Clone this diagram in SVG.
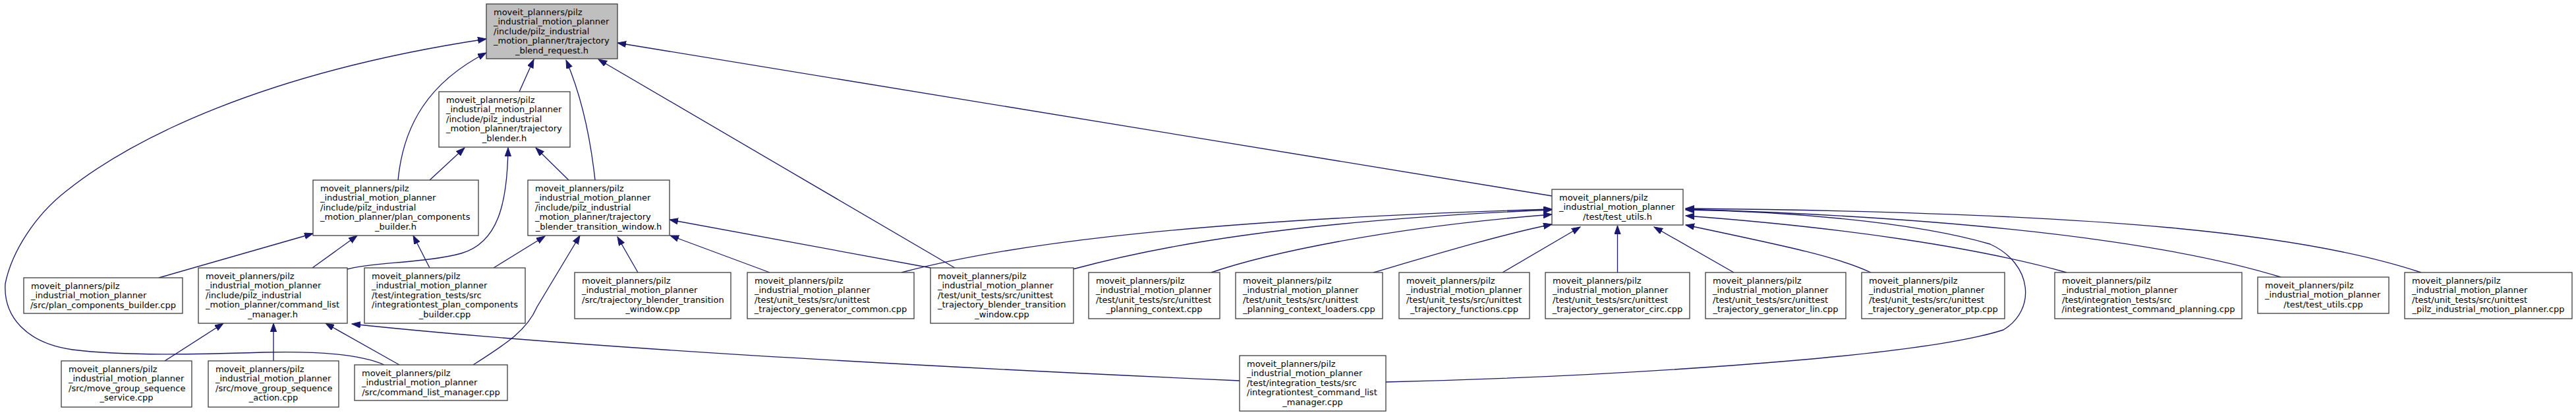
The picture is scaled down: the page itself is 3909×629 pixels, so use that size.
<svg xmlns="http://www.w3.org/2000/svg" width="3909" height="629" viewBox="0 0 3909 629">
<style>
.node rect{fill:#ffffff;stroke:#404040;stroke-width:1.33}
.root rect{fill:#bfbfbf}
text{font-family:"DejaVu Sans",sans-serif;font-size:13px;fill:#000}
.c{text-anchor:middle}
.edges path{fill:none;stroke:#191970;stroke-width:1.33;marker-end:url(#ah)}
</style>
<defs>
<marker id="ah" markerUnits="userSpaceOnUse" markerWidth="14" markerHeight="10" refX="13" refY="4.7" orient="auto">
<path d="M0,0 L13,4.7 L0,9.4 z" fill="#191970" stroke="#191970" stroke-width="1"/>
</marker>
</defs>
<rect width="3909" height="629" fill="#ffffff"/>
<g class="edges">
<path d="M788,139 L810,90"/>
<path d="M903,273 C895,200 880,140 859,91"/>
<path d="M604,273 C612,190 650,125 738,80"/>
<path d="M583,553 C545,536 480,532 400,534 C300,537 190,540 110,530 C40,520 5,480 8,430 C18,380 55,325 100,290 C200,210 400,110 738,59"/>
<path d="M2355,297 L937,65"/>
<path d="M1449,406 L908,90"/>
<path d="M652,273 L705,224"/>
<path d="M527,408 C560,398 650,398 700,384 C755,368 770,310 771,224"/>
<path d="M863,273 L813,224"/>
<path d="M241,421 L475,354"/>
<path d="M474,406 L542,357"/>
<path d="M652,406 L627,357"/>
<path d="M749,406 L827,358"/>
<path d="M718,553 C770,520 800,500 815,465 L880,357"/>
<path d="M968,413 L937,359"/>
<path d="M1168,413 L1017,357"/>
<path d="M1412,406 L1016,333"/>
<path d="M1368,413 C1500,378 1750,335 2355,317"/>
<path d="M1628,408 C1750,375 1950,335 2355,318"/>
<path d="M1838,413 C1920,385 2100,345 2355,325"/>
<path d="M2084,413 C2180,385 2280,355 2355,340"/>
<path d="M2280,413 L2398,344"/>
<path d="M2454.5,413 L2454.5,342"/>
<path d="M2631,413 L2510,344"/>
<path d="M2839,413 C2790,390 2720,375 2558,341"/>
<path d="M3136,413 C3000,375 2800,345 2558,327"/>
<path d="M3461,420 C3380,395 3150,335 2558,317"/>
<path d="M3674,413 C3500,355 3200,322 2558,316"/>
<path d="M2103,579 C2400,572 2900,545 3040,500 C3090,470 3085,400 3020,370 C2900,335 2700,320 2558,318"/>
<path d="M1881,577 C1500,560 900,530 534,491"/>
<path d="M250,547 L339,490"/>
<path d="M415,547 L415,490"/>
<path d="M606,553 L494,490"/>
</g>
<g id="n_root" class="node root">
<rect x="738" y="6" width="199" height="83"/>
<text x="749" y="22.5">moveit_planners/pilz</text>
<text x="749" y="37">_industrial_motion_planner</text>
<text x="749" y="51.5">/include/pilz_industrial</text>
<text x="749" y="66">_motion_planner/trajectory</text>
<text class="c" x="837.5" y="80.5">_blend_request.h</text>
</g>
<g id="n_blender_h" class="node">
<rect x="666" y="139" width="199" height="84"/>
<text x="677" y="155.5">moveit_planners/pilz</text>
<text x="677" y="170">_industrial_motion_planner</text>
<text x="677" y="184.5">/include/pilz_industrial</text>
<text x="677" y="199">_motion_planner/trajectory</text>
<text class="c" x="765.5" y="213.5">_blender.h</text>
</g>
<g id="n_pcb_h" class="node">
<rect x="475" y="273" width="251" height="84"/>
<text x="486" y="289.5">moveit_planners/pilz</text>
<text x="486" y="304">_industrial_motion_planner</text>
<text x="486" y="318.5">/include/pilz_industrial</text>
<text x="486" y="333">_motion_planner/plan_components</text>
<text class="c" x="600.5" y="347.5">_builder.h</text>
</g>
<g id="n_tbtw_h" class="node">
<rect x="801" y="273" width="215" height="84"/>
<text x="812" y="289.5">moveit_planners/pilz</text>
<text x="812" y="304">_industrial_motion_planner</text>
<text x="812" y="318.5">/include/pilz_industrial</text>
<text x="812" y="333">_motion_planner/trajectory</text>
<text class="c" x="908.5" y="347.5">_blender_transition_window.h</text>
</g>
<g id="n_test_utils_h" class="node">
<rect x="2355" y="287" width="199" height="54"/>
<text x="2366" y="303.5">moveit_planners/pilz</text>
<text x="2366" y="318">_industrial_motion_planner</text>
<text class="c" x="2454.5" y="332.5">/test/test_utils.h</text>
</g>
<g id="n_pcb_cpp" class="node">
<rect x="36" y="421" width="241" height="54"/>
<text x="47" y="437.5">moveit_planners/pilz</text>
<text x="47" y="452">_industrial_motion_planner</text>
<text class="c" x="156.5" y="466.5">/src/plan_components_builder.cpp</text>
</g>
<g id="n_clm_h" class="node">
<rect x="301" y="406" width="226" height="84"/>
<text x="312" y="422.5">moveit_planners/pilz</text>
<text x="312" y="437">_industrial_motion_planner</text>
<text x="312" y="451.5">/include/pilz_industrial</text>
<text x="312" y="466">_motion_planner/command_list</text>
<text class="c" x="414" y="480.5">_manager.h</text>
</g>
<g id="n_it_pcb" class="node">
<rect x="553" y="406" width="244" height="84"/>
<text x="564" y="422.5">moveit_planners/pilz</text>
<text x="564" y="437">_industrial_motion_planner</text>
<text x="564" y="451.5">/test/integration_tests/src</text>
<text x="564" y="466">/integrationtest_plan_components</text>
<text class="c" x="675" y="480.5">_builder.cpp</text>
</g>
<g id="n_mgs_service" class="node">
<rect x="93" y="547" width="198" height="70"/>
<text x="104" y="563.5">moveit_planners/pilz</text>
<text x="104" y="578">_industrial_motion_planner</text>
<text x="104" y="592.5">/src/move_group_sequence</text>
<text class="c" x="192" y="607">_service.cpp</text>
</g>
<g id="n_mgs_action" class="node">
<rect x="316" y="547" width="198" height="70"/>
<text x="327" y="563.5">moveit_planners/pilz</text>
<text x="327" y="578">_industrial_motion_planner</text>
<text x="327" y="592.5">/src/move_group_sequence</text>
<text class="c" x="415" y="607">_action.cpp</text>
</g>
<g id="n_clm_cpp" class="node">
<rect x="538" y="553" width="232" height="54"/>
<text x="549" y="569.5">moveit_planners/pilz</text>
<text x="549" y="584">_industrial_motion_planner</text>
<text class="c" x="654" y="598.5">/src/command_list_manager.cpp</text>
</g>
<g id="n_src_tbtw" class="node">
<rect x="872" y="413" width="237" height="70"/>
<text x="883" y="429.5">moveit_planners/pilz</text>
<text x="883" y="444">_industrial_motion_planner</text>
<text x="883" y="458.5">/src/trajectory_blender_transition</text>
<text class="c" x="990.5" y="473">_window.cpp</text>
</g>
<g id="n_ut_tg_common" class="node">
<rect x="1134" y="413" width="253" height="70"/>
<text x="1145" y="429.5">moveit_planners/pilz</text>
<text x="1145" y="444">_industrial_motion_planner</text>
<text x="1145" y="458.5">/test/unit_tests/src/unittest</text>
<text class="c" x="1260.5" y="473">_trajectory_generator_common.cpp</text>
</g>
<g id="n_ut_tbtw" class="node">
<rect x="1412" y="406" width="217" height="84"/>
<text x="1423" y="422.5">moveit_planners/pilz</text>
<text x="1423" y="437">_industrial_motion_planner</text>
<text x="1423" y="451.5">/test/unit_tests/src/unittest</text>
<text x="1423" y="466">_trajectory_blender_transition</text>
<text class="c" x="1520.5" y="480.5">_window.cpp</text>
</g>
<g id="n_ut_pc" class="node">
<rect x="1652" y="413" width="199" height="70"/>
<text x="1663" y="429.5">moveit_planners/pilz</text>
<text x="1663" y="444">_industrial_motion_planner</text>
<text x="1663" y="458.5">/test/unit_tests/src/unittest</text>
<text class="c" x="1751.5" y="473">_planning_context.cpp</text>
</g>
<g id="n_ut_pcl" class="node">
<rect x="1875" y="413" width="223" height="70"/>
<text x="1886" y="429.5">moveit_planners/pilz</text>
<text x="1886" y="444">_industrial_motion_planner</text>
<text x="1886" y="458.5">/test/unit_tests/src/unittest</text>
<text class="c" x="1986.5" y="473">_planning_context_loaders.cpp</text>
</g>
<g id="n_ut_tf" class="node">
<rect x="2123" y="413" width="198" height="70"/>
<text x="2134" y="429.5">moveit_planners/pilz</text>
<text x="2134" y="444">_industrial_motion_planner</text>
<text x="2134" y="458.5">/test/unit_tests/src/unittest</text>
<text class="c" x="2222" y="473">_trajectory_functions.cpp</text>
</g>
<g id="n_ut_circ" class="node">
<rect x="2345" y="413" width="219" height="70"/>
<text x="2356" y="429.5">moveit_planners/pilz</text>
<text x="2356" y="444">_industrial_motion_planner</text>
<text x="2356" y="458.5">/test/unit_tests/src/unittest</text>
<text class="c" x="2454.5" y="473">_trajectory_generator_circ.cpp</text>
</g>
<g id="n_it_clm" class="node">
<rect x="1881" y="539" width="222" height="84"/>
<text x="1892" y="555.5">moveit_planners/pilz</text>
<text x="1892" y="570">_industrial_motion_planner</text>
<text x="1892" y="584.5">/test/integration_tests/src</text>
<text x="1892" y="599">/integrationtest_command_list</text>
<text class="c" x="1992" y="613.5">_manager.cpp</text>
</g>
<g id="n_ut_lin" class="node">
<rect x="2588" y="413" width="213" height="70"/>
<text x="2599" y="429.5">moveit_planners/pilz</text>
<text x="2599" y="444">_industrial_motion_planner</text>
<text x="2599" y="458.5">/test/unit_tests/src/unittest</text>
<text class="c" x="2694.5" y="473">_trajectory_generator_lin.cpp</text>
</g>
<g id="n_ut_ptp" class="node">
<rect x="2825" y="413" width="217" height="70"/>
<text x="2836" y="429.5">moveit_planners/pilz</text>
<text x="2836" y="444">_industrial_motion_planner</text>
<text x="2836" y="458.5">/test/unit_tests/src/unittest</text>
<text class="c" x="2933.5" y="473">_trajectory_generator_ptp.cpp</text>
</g>
<g id="n_it_cp" class="node">
<rect x="3118" y="413" width="284" height="70"/>
<text x="3129" y="429.5">moveit_planners/pilz</text>
<text x="3129" y="444">_industrial_motion_planner</text>
<text x="3129" y="458.5">/test/integration_tests/src</text>
<text class="c" x="3260" y="473">/integrationtest_command_planning.cpp</text>
</g>
<g id="n_test_utils_cpp" class="node">
<rect x="3426" y="420" width="199" height="55"/>
<text x="3437" y="436.5">moveit_planners/pilz</text>
<text x="3437" y="451">_industrial_motion_planner</text>
<text class="c" x="3525.5" y="465.5">/test/test_utils.cpp</text>
</g>
<g id="n_ut_pimp" class="node">
<rect x="3649" y="413" width="254" height="70"/>
<text x="3660" y="429.5">moveit_planners/pilz</text>
<text x="3660" y="444">_industrial_motion_planner</text>
<text x="3660" y="458.5">/test/unit_tests/src/unittest</text>
<text class="c" x="3776" y="473">_pilz_industrial_motion_planner.cpp</text>
</g>
</svg>
